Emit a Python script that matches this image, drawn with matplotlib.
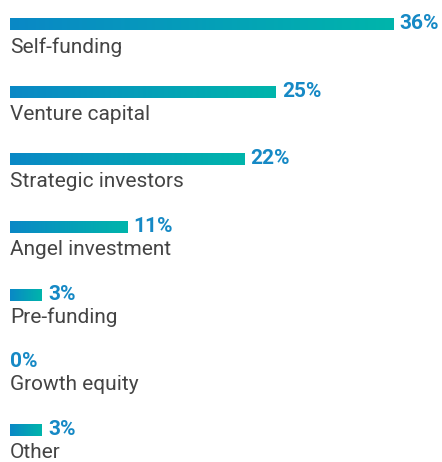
import numpy as np
import matplotlib.pyplot as plt
from matplotlib.colors import LinearSegmentedColormap

# Data
categories = ["Self-funding", "Venture capital", "Strategic investors",
              "Angel investment", "Pre-funding", "Growth equity", "Other"]
values = [36, 25, 22, 11, 3, 0, 3]

plt.rcParams['font.family'] = ['Roboto', 'DejaVu Sans']

grad = LinearSegmentedColormap.from_list("grad", ["#0a88c6", "#00b5ab"])
pct_color = "#1689c5"
label_color = "#444444"

fig = plt.figure(figsize=(4.42, 4.62), dpi=100)
ax = fig.add_axes([0, 0, 1, 1])

px = 10.64  # pixels per percent
step = 67.3
x_lim = (-10 / px, (442 - 10) / px)
y_lim = (6 + (462 - 430) / step, -24 / step)
ax.axis('off')

y = np.arange(len(categories))
bar_h = 0.178
bars = ax.barh(y, values, height=bar_h, color='none', edgecolor='none')

g = np.linspace(0, 1, 256).reshape(1, -1)
for bar, v, yy, cat in zip(bars, values, y, categories):
    if v > 0:
        im = ax.imshow(g, cmap=grad, aspect='auto', interpolation='bicubic',
                       extent=(0, v, yy + bar_h / 2, yy - bar_h / 2), zorder=2)
        im.set_clip_path(bar)
    off = 6 if v > 0 else 0
    ax.annotate(f"{v}%", (v, yy + bar_h / 2), xytext=(off, 1), textcoords='offset pixels',
                ha='left', va='baseline', fontsize=15, fontweight='bold',
                color=pct_color)
    ax.annotate(cat, (0, yy + bar_h / 2), xytext=(0, -7), textcoords='offset pixels',
                ha='left', va='top', fontsize=15, color=label_color)

ax.set_xlim(*x_lim)
ax.set_ylim(*y_lim)

fig.savefig("out.png", dpi=100)
